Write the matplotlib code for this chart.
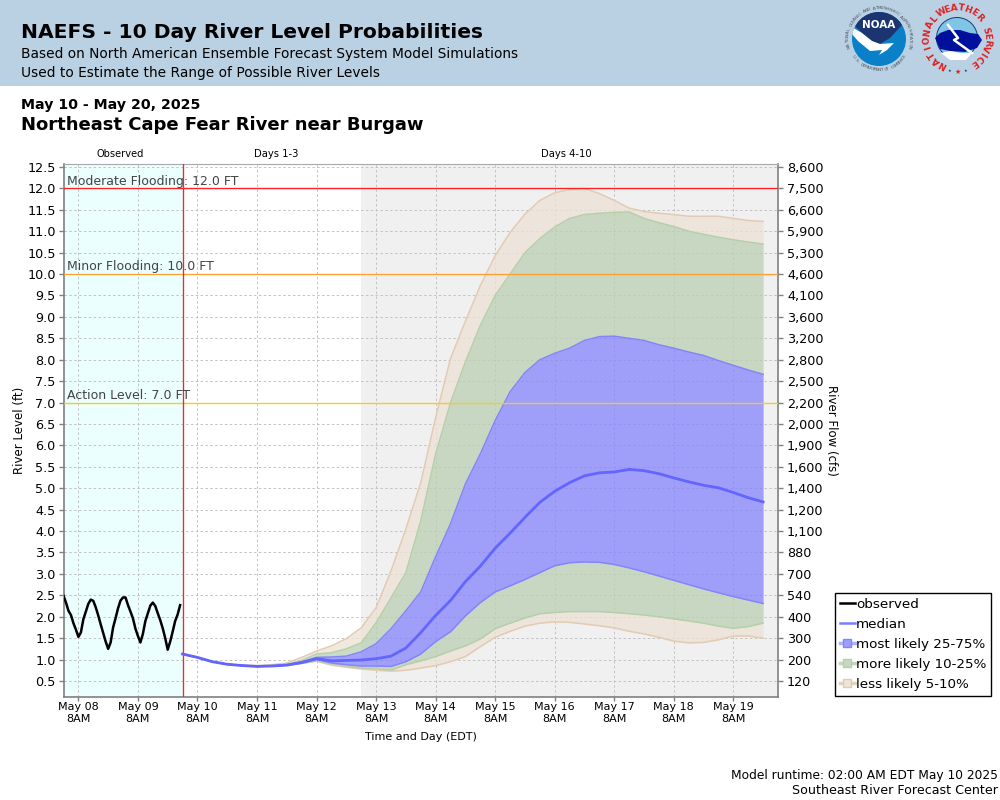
import numpy as np
import pandas as pd
import matplotlib
matplotlib.use('Agg')
import matplotlib.pyplot as plt
from matplotlib.lines import Line2D
from matplotlib.patches import Circle, Polygon, Rectangle

# observed stage, hourly from May 08 2AM
obs_level = [2.49, 2.33, 2.14, 2.04, 1.85, 1.70, 1.53, 1.63, 1.94, 2.12, 2.30, 2.40,
             2.37, 2.22, 2.03, 1.82, 1.62, 1.42, 1.25, 1.40, 1.75, 1.97, 2.20, 2.38,
             2.45, 2.45, 2.27, 2.12, 1.96, 1.72, 1.55, 1.40, 1.60, 1.90, 2.08, 2.26,
             2.33, 2.25, 2.08, 1.92, 1.73, 1.50, 1.23, 1.42, 1.65, 1.90, 2.05, 2.27]

# forecast percentiles, 6 hourly from May 10 2AM
median = [1.13, 1.05, 0.95, 0.89, 0.86, 0.84, 0.85, 0.87, 0.93, 1.02,
          0.97, 0.98, 0.99, 1.02, 1.08, 1.27, 1.63, 2.03, 2.38, 2.82,
          3.18, 3.60, 3.95, 4.32, 4.67, 4.93, 5.13, 5.29, 5.36, 5.38,
          5.44, 5.41, 5.34, 5.24, 5.15, 5.07, 5.01, 4.90, 4.78, 4.68]
p75 = [1.13, 1.05, 0.95, 0.89, 0.86, 0.84, 0.85, 0.88, 0.95, 1.05,
       1.06, 1.08, 1.18, 1.37, 1.72, 2.14, 2.58, 3.40, 4.17, 5.10,
       5.80, 6.58, 7.25, 7.70, 8.00, 8.15, 8.27, 8.45, 8.54, 8.55,
       8.50, 8.45, 8.35, 8.27, 8.18, 8.10, 7.98, 7.87, 7.76, 7.66]
p25 = [1.13, 1.05, 0.95, 0.89, 0.86, 0.84, 0.85, 0.87, 0.92, 1.00,
       0.92, 0.88, 0.85, 0.85, 0.84, 0.95, 1.13, 1.42, 1.65, 2.02,
       2.33, 2.58, 2.72, 2.87, 3.03, 3.19, 3.26, 3.28, 3.27, 3.22,
       3.14, 3.05, 2.95, 2.85, 2.75, 2.65, 2.56, 2.47, 2.39, 2.31]
p90 = [1.13, 1.05, 0.95, 0.89, 0.86, 0.85, 0.86, 0.89, 0.98, 1.13,
       1.16, 1.25, 1.39, 1.86, 2.44, 3.03, 4.24, 5.80, 7.00, 7.95,
       8.80, 9.50, 10.00, 10.50, 10.83, 11.10, 11.30, 11.39, 11.42, 11.44,
       11.45, 11.30, 11.20, 11.11, 11.00, 10.93, 10.86, 10.80, 10.75, 10.70]
p10 = [1.13, 1.05, 0.95, 0.89, 0.86, 0.84, 0.85, 0.87, 0.91, 0.97,
       0.90, 0.85, 0.80, 0.79, 0.75, 0.88, 0.97, 1.07, 1.20, 1.32,
       1.48, 1.72, 1.85, 1.97, 2.07, 2.10, 2.12, 2.12, 2.12, 2.10,
       2.07, 2.04, 2.00, 1.95, 1.90, 1.85, 1.78, 1.73, 1.77, 1.85]
p95 = [1.13, 1.05, 0.95, 0.89, 0.87, 0.86, 0.88, 0.92, 1.05, 1.20,
       1.32, 1.49, 1.74, 2.21, 3.07, 4.05, 5.13, 6.65, 8.03, 8.90,
       9.73, 10.43, 10.97, 11.40, 11.72, 11.90, 11.97, 12.00, 11.88, 11.72,
       11.54, 11.46, 11.42, 11.39, 11.35, 11.35, 11.35, 11.30, 11.25, 11.23]
p05 = [1.13, 1.05, 0.95, 0.89, 0.86, 0.84, 0.85, 0.87, 0.91, 0.96,
       0.87, 0.82, 0.78, 0.75, 0.73, 0.75, 0.80, 0.86, 0.95, 1.07,
       1.30, 1.52, 1.66, 1.78, 1.85, 1.88, 1.87, 1.83, 1.79, 1.74,
       1.66, 1.60, 1.52, 1.43, 1.39, 1.40, 1.46, 1.55, 1.55, 1.50]

left_ticks = [0.5, 1.0, 1.5, 2.0, 2.5, 3.0, 3.5, 4.0, 4.5, 5.0, 5.5, 6.0, 6.5,
              7.0, 7.5, 8.0, 8.5, 9.0, 9.5, 10.0, 10.5, 11.0, 11.5, 12.0, 12.5]
flow_labels = ['120', '200', '300', '400', '540', '700', '880', '1,100', '1,200',
               '1,400', '1,600', '1,900', '2,000', '2,200', '2,500', '2,800', '3,200',
               '3,600', '4,100', '4,600', '5,300', '5,900', '6,600', '7,500', '8,600']
flood_levels = [12.0, 10.0, 7.0]
flood_names = ['Moderate Flooding: 12.0 FT', 'Minor Flooding: 10.0 FT', 'Action Level: 7.0 FT']
flood_colors = ['#ff2020', '#ffa030', '#ffcc00']

obs_time = pd.date_range('2025-05-08 02:00', periods=len(obs_level), freq='h')
fc_time = pd.date_range('2025-05-10 02:00', periods=len(median), freq='6h')
day_ticks = pd.date_range('2025-05-08 08:00', '2025-05-19 08:00', freq='D')
now = pd.Timestamp('2025-05-10 02:00')
gray_start = pd.Timestamp('2025-05-13 02:00')

TAN, GREEN, BLUE = '#ece2d4', '#bbcfb3', '#8484fe'
TAN_E, GREEN_E, BLUE_E = '#e2cbb2', '#b6cfa9', '#8484fb'

fig = plt.figure(figsize=(10, 8), dpi=100, facecolor='white')
ax = fig.add_axes([0.0635, 1 - 697 / 800, 0.7145, (697 - 164) / 800])

t0 = pd.Timestamp('2025-05-08 02:00')
t1 = pd.Timestamp('2025-05-20 02:00')
ax.set_xlim(t0, t1)
ax.set_ylim(0.126, 12.57)

ax.axvspan(t0, now, color='#ebffff', lw=0, zorder=0)
ax.axvspan(gray_start, t1, color='#f0f0f0', lw=0, zorder=0)
ax.grid(True, color='#c2c2c2', linestyle=(0, (2.5, 2.5)), linewidth=0.7, zorder=1)
ax.set_axisbelow(True)

ax.fill_between(fc_time, p90, p95, color=TAN, alpha=0.75, lw=0, zorder=2)
ax.fill_between(fc_time, p05, p10, color=TAN, alpha=0.75, lw=0, zorder=2)
ax.fill_between(fc_time, p75, p90, color=GREEN, alpha=0.75, lw=0, zorder=2)
ax.fill_between(fc_time, p10, p25, color=GREEN, alpha=0.75, lw=0, zorder=2)
ax.fill_between(fc_time, p25, p75, color=BLUE, alpha=0.75, lw=0, zorder=2)
for s, c in [(p95, TAN_E), (p05, TAN_E), (p90, GREEN_E), (p10, GREEN_E), (p75, BLUE_E), (p25, BLUE_E)]:
    ax.plot(fc_time, s, color=c, lw=1.1, zorder=3)

for lev, name, c in zip(flood_levels, flood_names, flood_colors):
    ax.axhline(lev, color=c, lw=0.95, zorder=4)
    ax.text(0.0055, lev + 0.02, name, transform=ax.get_yaxis_transform(), fontsize=9,
            color='#444444', va='bottom', ha='left', zorder=6)
ax.axvline(now, color='#ff2020', lw=0.95, zorder=4)

ax.plot(fc_time, median, color='#6464ff', lw=2, zorder=5)
ax.plot(obs_time, obs_level, color='black', lw=1.8, zorder=5)

ax.set_yticks(left_ticks)
ax.set_yticklabels(['%.1f' % v for v in left_ticks], fontsize=9.2)
ax.set_xticks(day_ticks)
ax.set_xticklabels([d.strftime('%b %d') + '\n8AM' for d in day_ticks], fontsize=8, linespacing=1.24)
ax.tick_params(axis='y', color='#808080', length=3.5, width=1, pad=2)
ax.tick_params(axis='x', color='#808080', length=3, width=1, pad=0.5)
ax.set_ylabel('River Level (ft)', fontsize=8.5, labelpad=1)
ax.set_xlabel('Time and Day (EDT)', fontsize=8, labelpad=6)
for s in ax.spines.values():
    s.set_color('#a8a8a8')
for s in ['left', 'bottom', 'right']:
    ax.spines[s].set_color('#808080')
    ax.spines[s].set_linewidth(1.2)

ax2 = ax.twinx()
ax2.set_ylim(ax.get_ylim())
ax2.set_yticks(left_ticks)
ax2.set_yticklabels(flow_labels, fontsize=9.2)
ax2.tick_params(axis='y', color='#808080', length=3.5, width=1, pad=3)
ax2.set_ylabel('River Flow (cfs)', fontsize=8.5, rotation=270, labelpad=10)
for s in ax2.spines.values():
    s.set_visible(False)

handles = [
    Line2D([], [], color='black', lw=1.8),
    Line2D([], [], color='#7c7cff', lw=1.8),
    Line2D([], [], color='#b0b0fa', lw=2.5, marker='s', ms=6, mfc='#9f9ffa', mec='#8484fb'),
    Line2D([], [], color='#c0d8b4', lw=2.5, marker='s', ms=6, mfc='#c8d7c2', mec='#b6cfa9'),
    Line2D([], [], color='#e6d2bc', lw=2.5, marker='s', ms=6, mfc='#ede5db', mec='#e2cbb2'),
]
labels = ['observed', 'median', 'most likely 25-75%', 'more likely 10-25%', 'less likely 5-10%']
leg = fig.legend(handles, labels, loc='lower left', bbox_to_anchor=(835 / 1000, 1 - 695.5 / 800),
                 fontsize=9.7, frameon=True, fancybox=False, framealpha=1, edgecolor='black',
                 borderpad=0.35, labelspacing=0.52, handlelength=1.1, handletextpad=0.12,
                 borderaxespad=0)
leg.get_frame().set_linewidth(1)

# header band and text, pixel coordinates
hd = fig.add_axes([0, 0, 1, 1], zorder=-1)
hd.set_xlim(0, 1000)
hd.set_ylim(800, 0)
hd.axis('off')
hd.add_patch(Rectangle((0, 0), 1000, 85.5, color='#bad1e4', lw=0))

hd.text(21, 33, 'NAEFS - 10 Day River Level Probabilities', fontsize=14.6, fontweight='bold', va='center')
hd.text(21, 54, 'Based on North American Ensemble Forecast System Model Simulations', fontsize=9.88, va='center')
hd.text(21, 73, 'Used to Estimate the Range of Possible River Levels', fontsize=9.88, va='center')
hd.text(21, 105, 'May 10 - May 20, 2025', fontsize=10.2, fontweight='bold', va='center')
hd.text(21, 125.5, 'Northeast Cape Fear River near Burgaw', fontsize=13, fontweight='bold', va='center')
hd.text(120.5, 154, 'Observed', fontsize=7.1, ha='center', va='center')
hd.text(276.5, 154, 'Days 1-3', fontsize=7.2, ha='center', va='center')
hd.text(566, 154, 'Days 4-10', fontsize=7.2, ha='center', va='center')
hd.text(998, 775, 'Model runtime: 02:00 AM EDT May 10 2025', fontsize=8.85, ha='right', va='center')
hd.text(998, 791, 'Southeast River Forecast Center', fontsize=9.08, ha='right', va='center')


def ring_text(cx, cy, r, s, a0, a1, fs, color, weight='normal', bottom=False):
    # letters along a circle, angles in degrees clockwise from top
    for ang, ch in zip(np.linspace(a0, a1, len(s)), s):
        a = np.radians(ang)
        rot = 180 - ang if bottom else -ang
        hd.text(cx + r * np.sin(a), cy - r * np.cos(a), ch, fontsize=fs, color=color, fontweight=weight,
                rotation=rot, ha='center', va='center')


# NOAA logo
noaa_clip = Circle((879, 39), 27, transform=hd.transData)
hd.add_patch(Circle((879, 39), 27, color='#0a80c8', lw=0))
dark = Polygon([(850, 10), (908, 10), (903, 24), (890, 38), (880, 44), (872, 41), (862, 33), (853, 24)],
               color='#1c3570', lw=0)
hd.add_patch(dark)
dark.set_clip_path(noaa_clip)
swoosh = Polygon([(850, 26), (862, 33), (872, 41), (880, 44), (894, 43), (887, 50), (879, 55), (882, 50),
                  (870, 51), (858, 41), (851, 33)], color='white', lw=0)
hd.add_patch(swoosh)
swoosh.set_clip_path(noaa_clip)
hd.text(879, 25, 'NOAA', fontsize=7.5, color='white', fontweight='bold', ha='center', va='center')
ring_text(879, 39, 31, 'NATIONAL OCEANIC AND ATMOSPHERIC ADMINISTRATION', -105, 105, 3.2, '#505860')
ring_text(879, 39, 31, 'U.S. DEPARTMENT OF COMMERCE', -125, -235, 3.2, '#505860', bottom=True)

# NWS logo
hd.add_patch(Circle((957, 38), 21, color='#1d3c78', lw=0))
hd.add_patch(Circle((957, 38), 20, color='#7fc6e6', lw=0))
hd.add_patch(Polygon([(935, 38), (940, 33), (948, 30), (960, 30), (970, 33), (978, 34), (982, 40), (977, 48),
                      (965, 52), (950, 51), (940, 49)], color='#000f9c', lw=0))
hd.add_patch(Polygon([(941, 53), (950, 51), (960, 53), (972, 53), (966, 60), (950, 60)], color='white', lw=0))
hd.plot([948, 958, 954, 972], [25, 38, 40, 53], color='white', lw=1.8)
ring_text(957, 38, 30, 'NATIONAL', -152, -50, 6.5, '#e02020', 'bold')
ring_text(957, 38, 30, 'WEATHER', -32, 47, 6.5, '#e02020', 'bold')
ring_text(957, 38, 30, 'SERVICE', 75, 145, 6.5, '#e02020', 'bold')
hd.text(958, 72, '\u2605', fontsize=5, color='#e02020', ha='center', va='center')
hd.text(950, 71, '\u2605', fontsize=3, color='#1d3c78', ha='center', va='center')
hd.text(966, 71, '\u2605', fontsize=3, color='#1d3c78', ha='center', va='center')

plt.savefig('out.png', dpi=100)
